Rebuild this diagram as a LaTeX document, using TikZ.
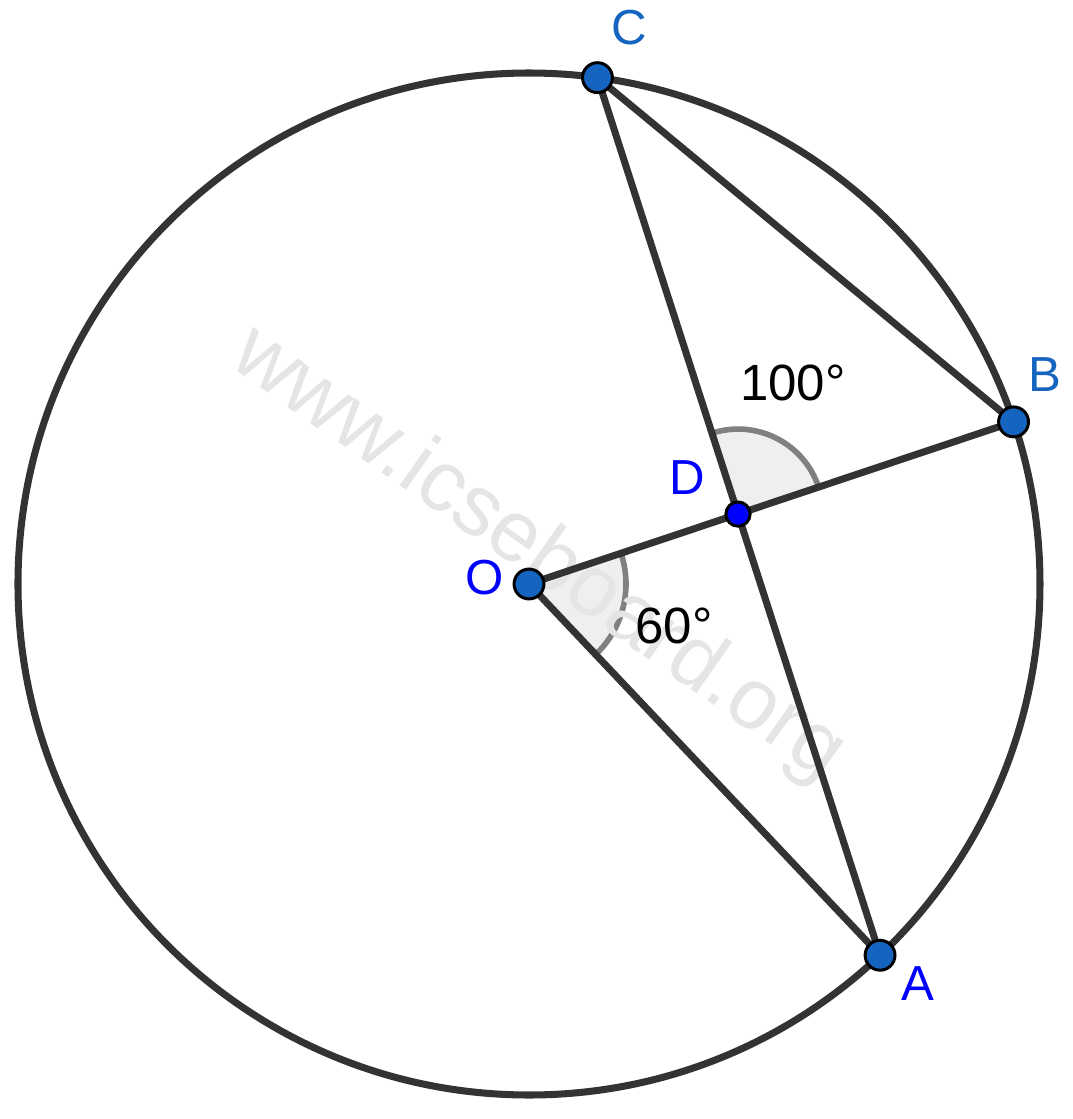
\documentclass[tikz,border=0pt]{standalone}
\usepackage{fontspec}
\setmainfont{Liberation Sans}
\usepackage{tikz}
\usetikzlibrary{positioning}
\definecolor{azul}{RGB}{21,101,192}
\definecolor{azulPuro}{RGB}{0,0,255}
\definecolor{grisOscuro}{RGB}{51,51,51}
\definecolor{grisArco}{RGB}{128,128,128}
\definecolor{grisClaro}{RGB}{239,239,239}
\definecolor{marca}{RGB}{229,229,229}
\tikzstyle{edge}  =[grisOscuro, line width=2pt]
\tikzstyle{vertex}=[circle, draw, fill=azul, minimum size=8.5pt,
                    line width=0.85pt, inner sep=0pt,
                    outer sep=0pt]
\tikzstyle{svertex}=[circle, draw, fill=azulPuro, minimum size=6.9pt,
                    line width=0.85pt, inner sep=0pt,
                    outer sep=0pt]
\tikzstyle{angfill}=[fill=grisClaro]
\tikzstyle{angarc}=[grisArco, line width=1.6pt]
\tikzstyle{lbl}   =[inner sep=0pt, font=\fontsize{14}{16}\selectfont]
\tikzstyle{grados}=[inner sep=0pt, font=\fontsize{14.5}{17}\selectfont]

\begin{document}
\begin{tikzpicture}
    \useasboundingbox (-5.29,-5.35) rectangle (5.44,5.84);

    % puntos
    \coordinate (o) at (0,0);
    \coordinate (a) at (-46.6:5.11);
    \coordinate (b) at (18.5:5.11);
    \coordinate (c) at (82.3:5.11);
    \coordinate (d) at (intersection of a--c and o--b);

    % angulos
    \draw[angfill] (o) -- (18.5:0.97) arc (18.5:-46.6:0.97) -- cycle;
    \draw[angarc] (18.5:0.97) arc (18.5:-46.6:0.97);
    \draw[angfill] (d) -- ++(18.5:0.85) arc (18.5:107.85:0.85) -- cycle;
    \draw[angarc] (d) ++(18.5:0.85) arc (18.5:107.85:0.85);

    \node[marca, anchor=base, rotate=-35,
        font=\fontsize{24.5}{28}\selectfont] (web) at (-0.04,0.11)
        {www.icseboard.org};

    \draw[edge] (o) circle (5.11);

    \foreach \i/\j in {o/a,o/d,d/b,a/d,d/c,c/b}
        \draw[edge] (\i) to (\j);

    \foreach \i in {o,a,b,c}
        \node (\i) [vertex] at (\i) {};
    \node (d) [svertex] at (d) {};

    \node (lc) [lbl, azul] at (1.00,5.56) {C};
    \node (lb) [lbl, azul] at (5.16,2.09) {B};
    \node (la) [lbl, azulPuro] at (3.89,-4.00) {A};
    \node (lo) [lbl, azulPuro] at (-0.44,0.06) {O};
    \node (ld) [lbl, azulPuro] at (1.58,1.06) {D};

    \node (g100) [grados] at (2.64,2.01) {100°};
    \node (g60) [grados] at (1.45,-0.42) {60°};

\end{tikzpicture}
\end{document}
